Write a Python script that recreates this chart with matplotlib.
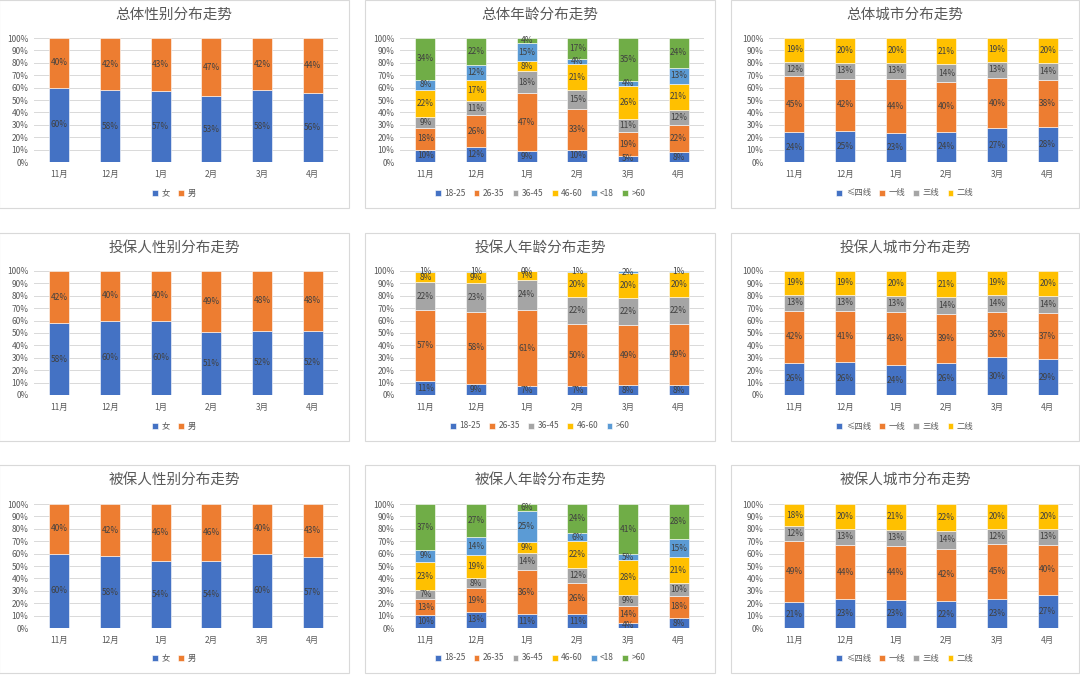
import matplotlib.pyplot as plt
from matplotlib.patches import Rectangle
import numpy as np

plt.rcParams['font.family'] = ['Noto Sans CJK SC', 'DejaVu Sans']

months = ['11月', '12月', '1月', '2月', '3月', '4月']

gender_names = ['女', '男']
age_names = ['18-25', '26-35', '36-45', '46-60', '<18', '>60']
holder_age_names = ['18-25', '26-35', '36-45', '46-60', '>60']
city_names = ['≤四线', '一线', '三线', '二线']

# 总体
total_gender = [[60, 58, 57, 53, 58, 56],
                [40, 42, 43, 47, 42, 44]]
total_age = [[10, 12, 9, 10, 5, 8],
             [18, 26, 47, 33, 19, 22],
             [9, 11, 18, 15, 11, 12],
             [22, 17, 8, 21, 26, 21],
             [8, 12, 15, 4, 4, 13],
             [34, 22, 4, 17, 35, 24]]
total_city = [[24, 25, 23, 24, 27, 28],
              [45, 42, 44, 40, 40, 38],
              [12, 13, 13, 14, 13, 14],
              [19, 20, 20, 21, 19, 20]]

# 投保人
holder_gender = [[58, 60, 60, 51, 52, 52],
                 [42, 40, 40, 49, 48, 48]]
holder_age = [[11, 9, 7, 7, 8, 8],
              [57, 58, 61, 50, 49, 49],
              [22, 23, 24, 22, 22, 22],
              [8, 9, 7, 20, 20, 20],
              [1, 1, 0, 1, 2, 1]]
holder_city = [[26, 26, 24, 26, 30, 29],
               [42, 41, 43, 39, 36, 37],
               [13, 13, 13, 14, 14, 14],
               [19, 19, 20, 21, 19, 20]]

# 被保人
insured_gender = [[60, 58, 54, 54, 60, 57],
                  [40, 42, 46, 46, 40, 43]]
insured_age = [[10, 13, 11, 11, 4, 8],
               [13, 19, 36, 26, 14, 18],
               [7, 8, 14, 12, 9, 10],
               [23, 19, 9, 22, 28, 21],
               [9, 14, 25, 6, 5, 15],
               [37, 27, 6, 24, 41, 28]]
insured_city = [[21, 23, 23, 22, 23, 27],
                [49, 44, 44, 42, 45, 40],
                [12, 13, 13, 14, 12, 13],
                [18, 20, 21, 22, 20, 20]]

palette = ['#4472C4', '#ED7D31', '#A5A5A5', '#FFC000', '#5B9BD5', '#70AD47']

W, H = 1080, 676
fig = plt.figure(figsize=(W / 100, H / 100), dpi=100)

col_x = [-1, 365, 731]
col_w = [350, 350, 348]
row_y = [0, 233, 465]
row_h = 208


def draw_panel(col, row, title, names, values):
    px, py = col_x[col], row_y[row]
    fig.patches.append(Rectangle((px / W, 1 - (py + row_h) / H), col_w[col] / W, row_h / H,
                                 transform=fig.transFigure, facecolor='white',
                                 edgecolor='#d9d9d9', lw=0.8, zorder=-5))
    left = px + (35 if col < 2 else 38)
    top = py + 38 + (1 if row == 2 else 0)
    ax = fig.add_axes([left / W, 1 - (top + 124) / H, 304 / W, 124 / H])
    ax.set_zorder(2)
    ax.patch.set_alpha(0)
    vals = np.array(values, dtype=float)
    share = vals / vals.sum(axis=0)
    x = np.arange(len(months))
    bottom = np.zeros(len(months))
    handles = []
    for i, name in enumerate(names):
        b = ax.bar(x, share[i], 0.39, bottom=bottom, color=palette[i],
                   edgecolor='white', linewidth=0.4, zorder=3)
        handles.append(b)
        for j in range(len(months)):
            ax.text(x[j], bottom[j] + share[i][j] / 2, f'{values[i][j]}%',
                    ha='center', va='center', fontsize=6, color='#404040', zorder=4)
        bottom += share[i]
    ax.set_xlim(-0.5, len(months) - 0.5)
    ax.set_ylim(0, 1)
    ax.set_yticks(np.linspace(0, 1, 11))
    ax.set_yticklabels([f'{int(round(t * 100))}%' for t in np.linspace(0, 1, 11)])
    ax.set_xticks(x)
    ax.set_xticklabels(months)
    ax.tick_params(length=0, labelsize=6, colors='#595959', pad=4)
    ax.tick_params(axis='x', pad=6)
    for s in ax.spines.values():
        s.set_visible(False)
    for t in np.linspace(0, 1, 11):
        ax.axhline(t, color='#d9d9d9', lw=0.7, zorder=1)
    cx = (px + col_w[col] / 2) / W
    fig.text(cx, 1 - (py + 15) / H, title, ha='center', va='center',
             fontsize=10.5, color='#595959')
    fig.legend(handles, names, loc='center', bbox_to_anchor=(cx, 1 - (py + 193) / H),
               ncol=len(names), frameon=False, fontsize=6, labelcolor='#595959',
               handlelength=0.7, handleheight=0.7, handletextpad=0.4,
               columnspacing=1.0, borderaxespad=0)


draw_panel(0, 0, '总体性别分布走势', gender_names, total_gender)
draw_panel(1, 0, '总体年龄分布走势', age_names, total_age)
draw_panel(2, 0, '总体城市分布走势', city_names, total_city)
draw_panel(0, 1, '投保人性别分布走势', gender_names, holder_gender)
draw_panel(1, 1, '投保人年龄分布走势', holder_age_names, holder_age)
draw_panel(2, 1, '投保人城市分布走势', city_names, holder_city)
draw_panel(0, 2, '被保人性别分布走势', gender_names, insured_gender)
draw_panel(1, 2, '被保人年龄分布走势', age_names, insured_age)
draw_panel(2, 2, '被保人城市分布走势', city_names, insured_city)

fig.savefig('out.png', dpi=100, facecolor='white')
